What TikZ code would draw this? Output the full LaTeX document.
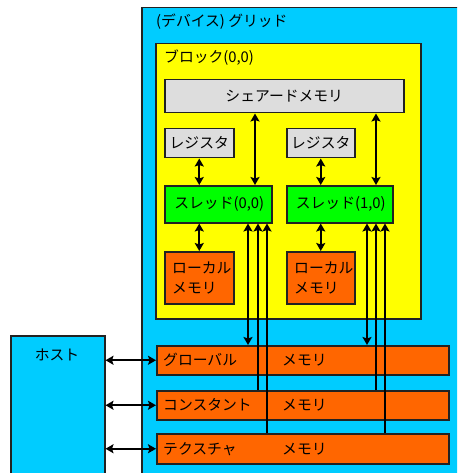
\documentclass[tikz,border=0pt]{standalone}
\usepackage{fontspec}
\setmainfont{Noto Sans CJK JP}
\usetikzlibrary{arrows.meta}
\definecolor{gridcyan}{HTML}{00CCFF}
\definecolor{blockyellow}{HTML}{FFFF00}
\definecolor{sharegray}{HTML}{DDDDDD}
\definecolor{threadgreen}{HTML}{00FF00}
\definecolor{memorange}{HTML}{FF6600}
\definecolor{edgedark}{HTML}{222222}
\tikzset{
  box/.style={draw=edgedark, line width=1.5pt, inner sep=0pt, anchor=north west},
  lbl/.style={font=\fontsize{14.8}{17}\selectfont, inner sep=0pt},
  tip/.tip={Stealth[length=8pt,width=9pt,inset=1.5pt]},
  dbl/.style={{tip}-{tip}, line width=2.4pt, black},
  upone/.style={-{tip}, line width=2.4pt, black},
}
\begin{document}
\begin{tikzpicture}[x=1pt,y=-1pt]
\useasboundingbox (0,0) rectangle (457,473);
\clip (0,0) rectangle (457,473);
% device grid
\node[box, fill=gridcyan, minimum width=360, minimum height=500] (grid) at (141,7) {};
\node[lbl, anchor=west] (gridtitle) at (156,22) {(デバイス) グリッド};
% block
\node[box, fill=blockyellow, minimum width=265, minimum height=275] (block) at (155,43) {};
\node[lbl, anchor=west] (blocktitle) at (164,58) {ブロック(0,0)};
% shared memory
\node[box, fill=sharegray, minimum width=239, minimum height=33] (shared) at (164,79) {};
\node[lbl] (sharedtxt) at (shared.center) {シェアードメモリ};
% registers
\node[box, fill=sharegray, minimum width=69, minimum height=29] (reg1) at (164,128) {};
\node[lbl] (reg1txt) at (reg1.center) {レジスタ};
\node[box, fill=sharegray, minimum width=68, minimum height=29] (reg2) at (286,128) {};
\node[lbl] (reg2txt) at (reg2.center) {レジスタ};
% threads
\node[box, fill=threadgreen, minimum width=107, minimum height=37] (th1) at (164,185) {};
\node[lbl] (th1txt) at ([xshift=1]th1.center) {スレッド(0,0)};
\node[box, fill=threadgreen, minimum width=106, minimum height=37] (th2) at (286,185) {};
\node[lbl] (th2txt) at ([xshift=1]th2.center) {スレッド(1,0)};
% local memories
\node[box, fill=memorange, minimum width=69, minimum height=52] (loc1) at (164,251) {};
\node[lbl, anchor=west, align=left, font=\fontsize{14.8}{20}\selectfont] (loc1txt) at ([xshift=8]loc1.west) {ローカル\\メモリ};
\node[box, fill=memorange, minimum width=68, minimum height=52] (loc2) at (286,251) {};
\node[lbl, anchor=west, align=left, font=\fontsize{14.8}{20}\selectfont] (loc2txt) at ([xshift=8]loc2.west) {ローカル\\メモリ};
% global memories
\node[box, fill=memorange, minimum width=292, minimum height=29] (glob) at (156,345) {};
\node[lbl, anchor=west] (globtxt) at ([xshift=7]glob.west) {グローバル};
\node[lbl, anchor=west] (globmem) at ([xshift=126]glob.west) {メモリ};
\node[box, fill=memorange, minimum width=292, minimum height=29] (const) at (156,390) {};
\node[lbl, anchor=west] (consttxt) at ([xshift=7]const.west) {コンスタント};
\node[lbl, anchor=west] (constmem) at ([xshift=126]const.west) {メモリ};
\node[box, fill=memorange, minimum width=292, minimum height=30] (tex) at (156,433) {};
\node[lbl, anchor=west] (textxt) at ([xshift=7]tex.west) {テクスチャ};
\node[lbl, anchor=west] (texmem) at ([xshift=126]tex.west) {メモリ};
% host
\node[box, fill=gridcyan, minimum width=94, minimum height=200] (host) at (10,335) {};
\node[lbl] (hosttxt) at (57,355) {ホスト};
% coordinates on thread edges
\coordinate (s1) at ([xshift=91]th1.north west);
\coordinate (s2) at ([xshift=90]th2.north west);
\coordinate (a1) at ([xshift=84]th1.south west);
\coordinate (b1) at ([xshift=94]th1.south west);
\coordinate (c1) at ([xshift=103]th1.south west);
\coordinate (a2) at ([xshift=81]th2.south west);
\coordinate (b2) at ([xshift=90]th2.south west);
\coordinate (c2) at ([xshift=99]th2.south west);
% arrows inside block
\draw[dbl] (reg1.south) -- (reg1.south |- th1.north);
\draw[dbl] (reg2.south) -- (reg2.south |- th2.north);
\draw[dbl] (s1 |- shared.south) -- (s1);
\draw[dbl] (s2 |- shared.south) -- (s2);
\draw[dbl] (loc1.north |- th1.south) -- (loc1.north);
\draw[dbl] (loc2.north |- th2.south) -- (loc2.north);
% thread to device memories
\draw[dbl] (a1) -- (a1 |- glob.north);
\draw[upone] (b1 |- const.north) -- (b1);
\draw[upone] (c1 |- tex.north) -- (c1);
\draw[dbl] (a2) -- (a2 |- glob.north);
\draw[upone] (b2 |- const.north) -- (b2);
\draw[upone] (c2 |- tex.north) -- (c2);
% host arrows
\draw[dbl] (glob.west -| host.east) -- (glob.west);
\draw[dbl] (const.west -| host.east) -- (const.west);
\draw[dbl] (tex.west -| host.east) -- (tex.west);
\end{tikzpicture}
\end{document}
